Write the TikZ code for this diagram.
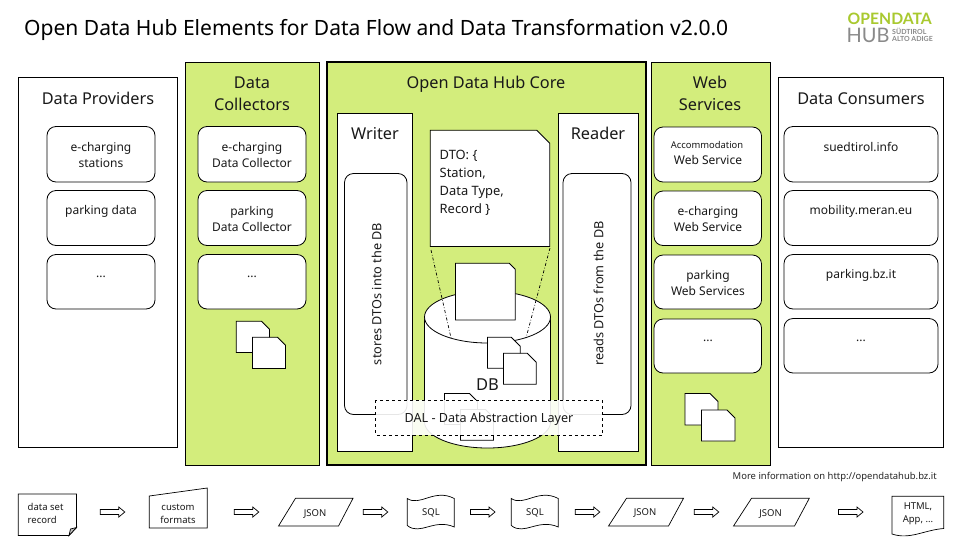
\documentclass[tikz,border=0pt]{standalone}
\usepackage{fontspec}
\setmainfont{Noto Sans}
\newfontfamily\logofont{Lato}
\definecolor{odhgreen}{HTML}{D3ED7C}
\definecolor{logogreen}{HTML}{A9C92F}
\definecolor{logogray}{HTML}{8A8A8A}
\newcommand{\fs}[2]{\fontsize{#1}{#2}\selectfont}
% doc x1 y1 x2 y2 cut
\newcommand{\docshape}[6][]{\draw[ln,fill=white,#1] (#2,#3) -- ({#4-#6},#3) -- (#4,{#3+#6}) -- (#4,#5) -- (#2,#5) -- cycle;}
\newcommand{\blockarrow}[2]{\draw[thinln,fill=white] (#1,{#2-2.5}) -- ({#1+18.5},{#2-2.5}) -- ({#1+18.5},{#2-5}) -- ({#1+24.5},#2) -- ({#1+18.5},{#2+5}) -- ({#1+18.5},{#2+2.5}) -- (#1,{#2+2.5}) -- cycle;}
\tikzset{
  ln/.style={draw=black,line width=0.8pt},
  thinln/.style={draw=black,line width=0.7pt},
  panel/.style={ln,fill=white},
  greenpanel/.style={ln,fill=odhgreen},
  rbox/.style={ln,fill=white,rounded corners=9pt},
  head/.style={font=\fs{16.3}{22},align=center,inner sep=0pt,text=black!90},
  lbl/.style={font=\fs{12}{16},align=center,inner sep=0pt,text=black!90},
  small/.style={font=\fs{9.4}{13},align=center,inner sep=0pt,text=black!90},
  flow/.style={font=\fs{9.5}{13},align=center,inner sep=0pt,text=black!90},
}
\begin{document}
\begin{tikzpicture}[x=1pt,y=-1pt]
\useasboundingbox (0,0) rectangle (960,549);
\fill[white] (0,0) rectangle (960,549);
% title
\node[anchor=base west,inner sep=0pt,font=\fs{21.05}{26}] (title) at (24,35) {Open Data Hub Elements for Data Flow and Data Transformation v2.0.0};
% logo
\node[anchor=base west,inner sep=0pt,font=\logofont\fs{15.7}{16}\bfseries,text=logogreen] (logoa) at (847.5,24.5) {OPENDATA};
\node[anchor=base west,inner sep=0pt,font=\logofont\fs{20}{18},text=logogray] (logob) at (846.5,42) {HUB};
\node[anchor=base west,inner sep=0pt,font=\logofont\fs{7}{6.8}\bfseries,text=logogray,align=left] (logoc) at (892,41) {SÜDTIROL\\ALTO ADIGE};
% panels
\draw[panel] (18.5,77) rectangle (177.5,447.5);
\draw[greenpanel] (185.5,62) rectangle (319,465);
\draw[odhgreen,fill=odhgreen] (326.5,62) rectangle (646,465);
\draw[greenpanel] (651,62) rectangle (770,465);
\draw[panel] (778.5,77) rectangle (943,447.5);
% headers
\node[head] (hprov) at (98,98) {Data Providers};
\node[head] (hcoll) at (252,93.5) {Data\\Collectors};
\node[head] (hcore) at (486,84) {Open Data Hub Core};
\node[head] (hweb) at (710,93.5) {Web\\Services};
\node[head] (hcons) at (861,98.5) {Data Consumers};
% providers
\draw[rbox] (47,126.5) rectangle (155,182);
\draw[rbox] (47,190.5) rectangle (155,245.5);
\draw[rbox] (47,254.5) rectangle (155,309);
\node[lbl] (p1) at (101,155) {e-charging\\stations};
\node[lbl] (p2) at (101,211.5) {parking data};
\node[lbl] (p3) at (101,277) {...};
% collectors
\draw[rbox] (198,126.5) rectangle (306,182);
\draw[rbox] (198,190.5) rectangle (306,245.5);
\draw[rbox] (198,254.5) rectangle (306,309);
\node[lbl] (c1) at (252,155) {e-charging\\Data Collector};
\node[lbl] (c2) at (252,219) {parking\\Data Collector};
\node[lbl] (c3) at (252,277) {...};
\docshape{236.3}{321.3}{269.5}{352.5}{8}
\docshape{252.5}{337.3}{285.5}{368.5}{8}
% web services
\draw[rbox] (654,127) rectangle (761.5,182);
\draw[rbox] (654,191) rectangle (761.5,245.5);
\draw[rbox] (654,255) rectangle (761.5,309);
\draw[rbox] (654,319) rectangle (761.5,373);
\node[small] (w1a) at (707,145) {Accommodation};
\node[lbl] (w1b) at (708,160) {Web Service};
\node[lbl] (w2) at (708,219) {e-charging\\Web Service};
\node[lbl] (w3) at (708,283) {parking\\Web Services};
\node[lbl] (w4) at (708,341) {...};
\docshape{685}{393.5}{718}{425}{8}
\docshape{701.5}{410}{735}{441}{8}
% consumers
\draw[rbox] (784,126.5) rectangle (938,182);
\draw[rbox] (784,190.5) rectangle (938,245.5);
\draw[rbox] (784,254.5) rectangle (938,309);
\draw[rbox] (784,318.5) rectangle (938,373);
\node[lbl] (d1) at (861,147) {suedtirol.info};
\node[lbl] (d2) at (861,211.5) {mobility.meran.eu};
\node[lbl] (d3) at (861,275.5) {parking.bz.it};
\node[lbl] (d4) at (861,341) {...};
% core: writer, reader
\draw[panel] (337,113) rectangle (412.8,451);
\draw[panel] (558.2,113) rectangle (638.5,451);
\node[head] (hwr) at (375,133.5) {Writer};
\node[head] (hrd) at (598,133) {Reader};
\draw[rbox] (344.5,173.5) rectangle (407,414.5);
\draw[rbox] (563,173.5) rectangle (631,414.5);
\node[lbl,rotate=90,font=\fs{12.7}{16}] (st) at (376.5,294) {stores DTOs into the DB};
\node[lbl,rotate=90,font=\fs{12.7}{16}] (re) at (598.5,293.5) {reads DTOs from the DB};
% cylinder
\draw[ln,fill=white] (424.5,317) -- (424.5,422) arc[start angle=180,end angle=0,x radius=63,y radius=26] -- (550.5,317);
\draw[ln,fill=white] (487.5,317) ellipse[x radius=63,y radius=26];
% dto
\docshape{430.3}{130.3}{549.8}{246.5}{13}
\node[anchor=north west,inner sep=0pt,align=left,font=\fs{12.9}{18},text=black!90] (dto) at (439.5,150) {DTO: \{\\Station,\\Data Type,\\Record \}};
% projection lines
\coordinate (pl1) at (431,250);
\coordinate (pl2) at (451.5,340);
\coordinate (pr1) at (550,248);
\coordinate (pr2) at (526,338);
\draw[line width=0.7pt,dash dot] (pl1) -- (pl2);
\draw[line width=0.7pt,dash dot] (pr1) -- (pr2);
% docs in db
\docshape{455.5}{263.3}{515.3}{320}{6}
\docshape{487.5}{337.3}{520.3}{368.3}{9}
\docshape{503.5}{353.3}{536.3}{384.3}{9}
\node[inner sep=0pt,font=\fs{16.5}{20},text=black!90] (db) at (487.5,385) {DB};
\docshape{444.5}{393.5}{477.5}{424.5}{8}
\docshape{460.5}{409.5}{493.5}{440.3}{8}
% DAL
\draw[line width=0.7pt,dashed,fill=white,fill opacity=0.9] (375.5,400.3) rectangle (602.5,435);
\node[lbl,font=\fs{12.6}{16}] (dal) at (489,419.5) {DAL - Data Abstraction Layer};
% core border
\draw[line width=2pt] (326.5,62) rectangle (646,465);
% info
\node[anchor=base west,inner sep=0pt,font=\fs{9.45}{12},text=black!85] (info) at (732.5,479) {More information on http://opendatahub.bz.it};
% flow
\draw[thinln,fill=white] (18.3,494) -- (76.5,494) -- (76.5,527.5) -- (69,535.5) -- (18.3,535.5) -- cycle;
\draw[thinln,fill=black!25] (69,535.5) -- (70.5,529) -- (76.5,527.5) -- cycle;
\node[flow,anchor=west,align=left] (f1) at (27.5,513) {data set\\record};
\blockarrow{100.3}{512}
\draw[thinln,fill=white] (149.3,496) -- (207.3,488) -- (207.3,528) -- (149.3,528) -- cycle;
\node[flow] (f2) at (178,513.5) {custom\\formats};
\blockarrow{234.3}{512}
\draw[thinln,fill=white] (278.5,526) -- (295.5,498.3) -- (353,498.3) -- (338.5,526) -- cycle;
\node[flow] (f3) at (315,513.5) {JSON};
\blockarrow{363.3}{512}
\draw[thinln,fill=white] (407.3,498.5) .. controls (420,507) and (434,488) .. (454.3,498.5) -- (454.3,527) .. controls (434,518) and (420,536) .. (407.3,525.5) -- cycle;
\node[flow] (f4) at (431,513) {SQL};
\blockarrow{470.5}{512}
\draw[thinln,fill=white] (511.3,498.5) .. controls (524,507) and (538,488) .. (558.3,498.5) -- (558.3,527) .. controls (538,518) and (524,536) .. (511.3,525.5) -- cycle;
\node[flow] (f5) at (535,513) {SQL};
\blockarrow{575.3}{512}
\draw[thinln,fill=white] (608.5,526) -- (626.5,498.3) -- (683.5,498.3) -- (668.5,526) -- cycle;
\node[flow] (f6) at (645,513) {JSON};
\blockarrow{694.3}{512}
\draw[thinln,fill=white] (733.5,526) -- (751.5,498.3) -- (809.3,498.3) -- (794.5,526) -- cycle;
\node[flow] (f7) at (770.5,513.5) {JSON};
\blockarrow{838.5}{512}
\draw[thinln,fill=white] (892,496.3) -- (943.7,496.3) -- (943.7,528.5) .. controls (924,530) and (910,540) .. (892,534) -- cycle;
\node[flow] (f8) at (918,513.5) {HTML,\\App, ...};
\end{tikzpicture}
\end{document}
